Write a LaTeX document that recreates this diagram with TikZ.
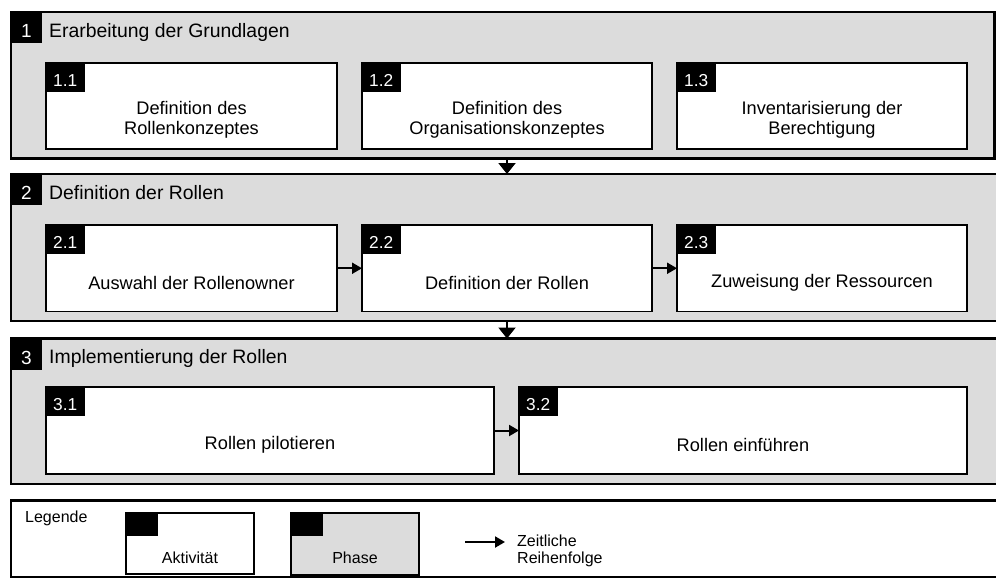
\documentclass[tikz,border=0pt]{standalone}
\usepackage{fontspec}
\setmainfont{Liberation Sans}
\usetikzlibrary{arrows.meta,calc}
\definecolor{phasegray}{RGB}{220,220,220}

\begin{document}
\begin{tikzpicture}[x=1pt, y=-1pt,
	phase/.style={draw, line width=2.2pt, fill=phasegray, anchor=north west, inner sep=0pt, outer sep=0pt},
	activity/.style={draw, line width=1.5pt, fill=white, anchor=north west, inner sep=0pt, outer sep=0pt},
	tag/.style={fill=black, text=white, anchor=north west, inner sep=0pt, outer sep=0pt, text depth=0pt},
	acttag/.style={tag, minimum width=38.5pt, minimum height=28.5pt, text height=18.4pt, font=\fontsize{17.3}{18}\selectfont},
	phasetag/.style={tag, minimum width=31pt, minimum height=31pt, text height=20pt, font=\fontsize{19}{20}\selectfont},
	ptitle/.style={anchor=base west, inner sep=0pt, font=\fontsize{19.4}{20}\selectfont},
	atext/.style={align=center, inner sep=0pt, font=\fontsize{18.2}{20}\selectfont},
	legtext/.style={inner sep=0pt, font=\fontsize{16}{17}\selectfont},
	flow/.style={line width=2pt, -{Triangle[width=11pt, length=10pt]}},
	pflow/.style={line width=2pt, -{Triangle[width=17pt, length=11pt]}}]
	
	\useasboundingbox (0,0) rectangle (996,581);
	
	% phase 1
	\node[phase, minimum width=983.5pt, minimum height=146.5pt] (p1) at (11,12) {};
	\node[phasetag] (n1) at (p1.north west) {1};
	\node[ptitle] (h1) at ($(p1.north west)+(38,25)$) {Erarbeitung der Grundlagen};
	
	\node[activity, minimum width=291pt, minimum height=86pt] (a11) at (46,63) {};
	\node[acttag] (t11) at (a11.north west) {1.1};
	\node[atext] (x11) at ($(t11.south -| a11.center)!.5!(a11.south)$) {Definition des\\Rollenkonzeptes};
	
	\node[activity, minimum width=290pt, minimum height=86pt] (a12) at (362,63) {};
	\node[acttag] (t12) at (a12.north west) {1.2};
	\node[atext] (x12) at ($(t12.south -| a12.center)!.5!(a12.south)$) {Definition des\\Organisationskonzeptes};
	
	\node[activity, minimum width=290pt, minimum height=86pt] (a13) at (677,63) {};
	\node[acttag] (t13) at (a13.north west) {1.3};
	\node[atext] (x13) at ($(t13.south -| a13.center)!.5!(a13.south)$) {Inventarisierung der\\Berechtigung};
	
	% phase 2
	\node[phase, minimum width=995pt, minimum height=147pt] (p2) at (11,174) {};
	\node[phasetag] (n2) at (p2.north west) {2};
	\node[ptitle] (h2) at ($(p2.north west)+(38,25)$) {Definition der Rollen};
	
	\node[activity, minimum width=291pt, minimum height=86.5pt] (a21) at (46,225) {};
	\node[acttag] (t21) at (a21.north west) {2.1};
	\node[atext] (x21) at ($(t21.south -| a21.center)!.5!(a21.south)$) {Auswahl der Rollenowner};
	
	\node[activity, minimum width=290pt, minimum height=86.5pt] (a22) at (362,225) {};
	\node[acttag] (t22) at (a22.north west) {2.2};
	\node[atext] (x22) at ($(t22.south -| a22.center)!.5!(a22.south)$) {Definition der Rollen};
	
	\node[activity, minimum width=290pt, minimum height=86.5pt] (a23) at (677,225) {};
	\node[acttag] (t23) at (a23.north west) {2.3};
	\node[atext] (x23) at ($(t23.south -| a23.center)!.5!(a23.south)$) {Zuweisung der Ressourcen};
	
	\draw[flow] (a21) -- (a22);
	\draw[flow] (a22) -- (a23);
	
	% phase 3
	\node[phase, minimum width=995pt, minimum height=145.5pt] (p3) at (11,338.5) {};
	\node[phasetag] (n3) at (p3.north west) {3};
	\node[ptitle] (h3) at ($(p3.north west)+(38,25)$) {Implementierung der Rollen};
	
	\node[activity, minimum width=448pt, minimum height=87pt] (a31) at (46,387) {};
	\node[acttag] (t31) at (a31.north west) {3.1};
	\node[atext] (x31) at ($(t31.south -| a31.center)!.5!(a31.south)$) {Rollen pilotieren};
	
	\node[activity, minimum width=448pt, minimum height=87pt] (a32) at (519,387) {};
	\node[acttag] (t32) at (a32.north west) {3.2};
	\node[atext] (x32) at ($(t32.south -| a32.center)!.5!(a32.south)$) {Rollen einführen};
	
	\draw[flow] (a31) -- (a32);
	
	\draw[pflow] (p1.south -| a22.center) -- (p2.north -| a22.center);
	\draw[pflow] (p2.south -| a22.center) -- (p3.north -| a22.center);
	
	% legend
	\node[draw, line width=2.2pt, anchor=north west, inner sep=0pt, outer sep=0pt, minimum width=995pt, minimum height=76.5pt] (leg) at (11,500.5) {};
	\node[legtext, anchor=base west] (legt) at (25,522) {Legende};
	
	\node[activity, minimum width=128pt, minimum height=61pt] (la) at (126,513) {};
	\node[tag, minimum width=32pt, minimum height=23pt] (lat) at (la.north west) {};
	\node[legtext, anchor=base] (lax) at ($(la.south)+(0,-11)$) {Aktivität};
	
	\node[activity, fill=phasegray, minimum width=128pt, minimum height=62pt] (lp) at (291,513) {};
	\node[tag, minimum width=32pt, minimum height=23pt] (lpt) at (lp.north west) {};
	\node[legtext, anchor=base] (lpx) at ($(lp.south)+(0,-12)$) {Phase};
	
	\coordinate (lf1) at (465,542);
	\coordinate (lf2) at (505,542);
	\draw[flow] (lf1) -- (lf2);
	\node[legtext, anchor=north west, align=left] (lfx) at (517,534.3) {Zeitliche\\Reihenfolge};
\end{tikzpicture}
\end{document}
